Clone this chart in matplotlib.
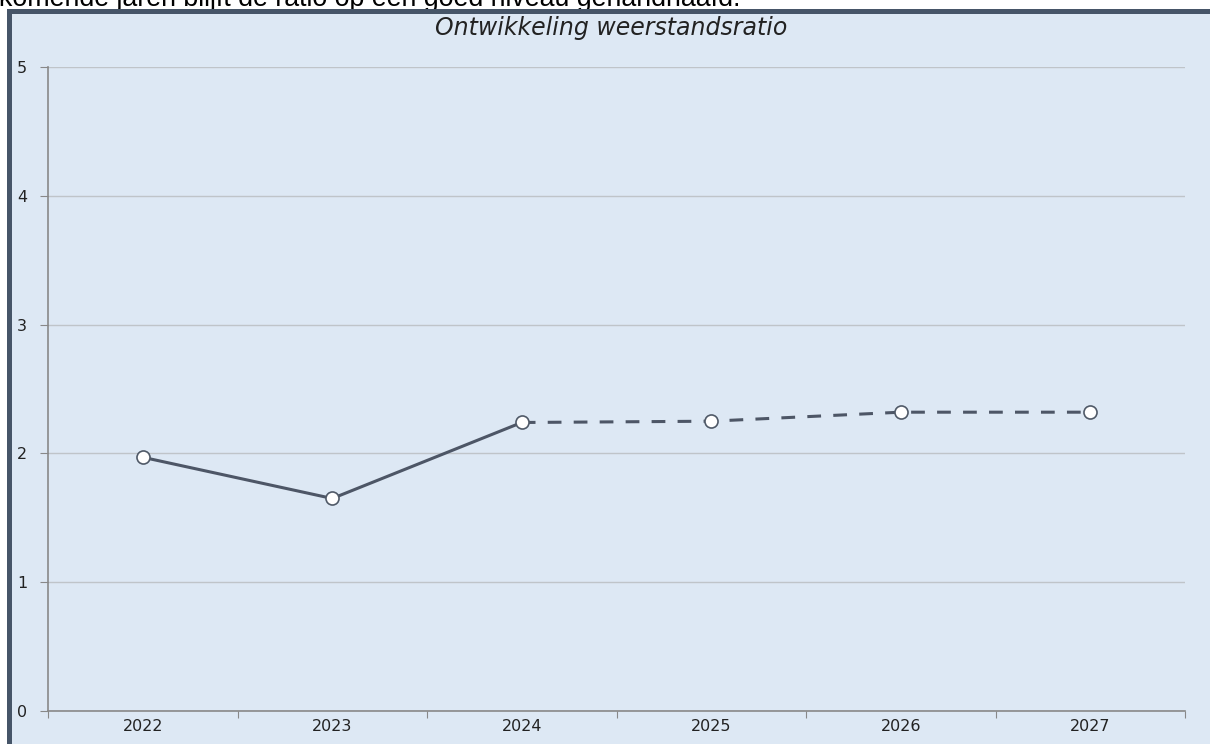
import matplotlib.pyplot as plt
from matplotlib.patches import Rectangle

# data
years = ['2022', '2023', '2024', '2025', '2026', '2027']
ratio_actual = [1.97, 1.65, 2.24]          # 2022 - 2024
ratio_forecast = [2.24, 2.25, 2.32, 2.32]  # 2024 - 2027
y_ticks = [0, 1, 2, 3, 4, 5]

panel_col = '#dde8f4'
border_col = '#465568'
line_col = '#4d5666'

fig = plt.figure(figsize=(12.1, 7.44), dpi=100)
fig.patch.set_facecolor('white')

# panel background with dark border at top and left
W, H = 1210, 744
fig.patches.append(Rectangle((7 / W, 0), 1, (H - 9) / H, transform=fig.transFigure,
                             facecolor=panel_col, edgecolor='none', zorder=-2))
fig.patches.append(Rectangle((7 / W, (H - 14) / H), 1, 5 / H, transform=fig.transFigure,
                             facecolor=border_col, edgecolor='none', zorder=-1))
fig.patches.append(Rectangle((7 / W, 0), 5 / W, (H - 9) / H, transform=fig.transFigure,
                             facecolor=border_col, edgecolor='none', zorder=-1))

# cut-off text above the panel (sits behind the border)
fig.text(-1 / W, (H - 6.5) / H, 'komende jaren blijft de ratio op een goed niveau gehandhaafd.',
         fontsize=19.3, family='Liberation Sans', ha='left', va='baseline', color='black',
         zorder=-1.5)

ax = fig.add_axes([48 / W, 33 / H, (1185 - 48) / W, (711 - 67) / H])
ax.set_zorder(2)
ax.set_facecolor(panel_col)

x_act = list(range(len(ratio_actual)))
x_fc = list(range(len(ratio_actual) - 1, len(years)))

ax.plot(x_act, ratio_actual, color=line_col, lw=2.2, zorder=3)
ax.plot(x_fc, ratio_forecast, color=line_col, lw=2.2, linestyle=(0, (4.5, 4)),
        dash_capstyle='butt', zorder=3)
ax.plot(x_act, ratio_actual, 'o', ms=9.4, mfc='white', mec='#505a68', mew=1.2, zorder=4)
ax.plot(x_fc[1:], ratio_forecast[1:], 'o', ms=9.4, mfc='white', mec='#505a68', mew=1.2, zorder=4)

ax.set_xlim(-0.5, len(years) - 0.5)
ax.set_ylim(0, 5)
ax.set_yticks(y_ticks)
ax.yaxis.grid(True, color='#bfc4c9', lw=1)
ax.set_axisbelow(True)

# ticks at category borders, labels at the centres
ax.set_xticks([i - 0.5 for i in range(len(years) + 1)])
ax.set_xticklabels([])
ax.set_xticks(range(len(years)), minor=True)
ax.set_xticklabels(years, minor=True)
ax.tick_params(axis='x', which='major', length=5, color='#888888', direction='out')
ax.tick_params(axis='x', which='minor', length=0, pad=6, labelsize=11.5, labelcolor='#222222')
ax.tick_params(axis='y', length=6, color='#888888', pad=9, labelsize=11.5, labelcolor='#222222')

for s in ['top', 'right']:
    ax.spines[s].set_visible(False)
for s in ['left', 'bottom']:
    ax.spines[s].set_color('#888888')
    ax.spines[s].set_linewidth(1.2)

fig.text(611 / W, (H - 28) / H, 'Ontwikkeling weerstandsratio', fontstyle='italic',
         fontsize=17, color='#222222', ha='center', va='center')

fig.savefig('out.png', dpi=100, facecolor=fig.get_facecolor())
